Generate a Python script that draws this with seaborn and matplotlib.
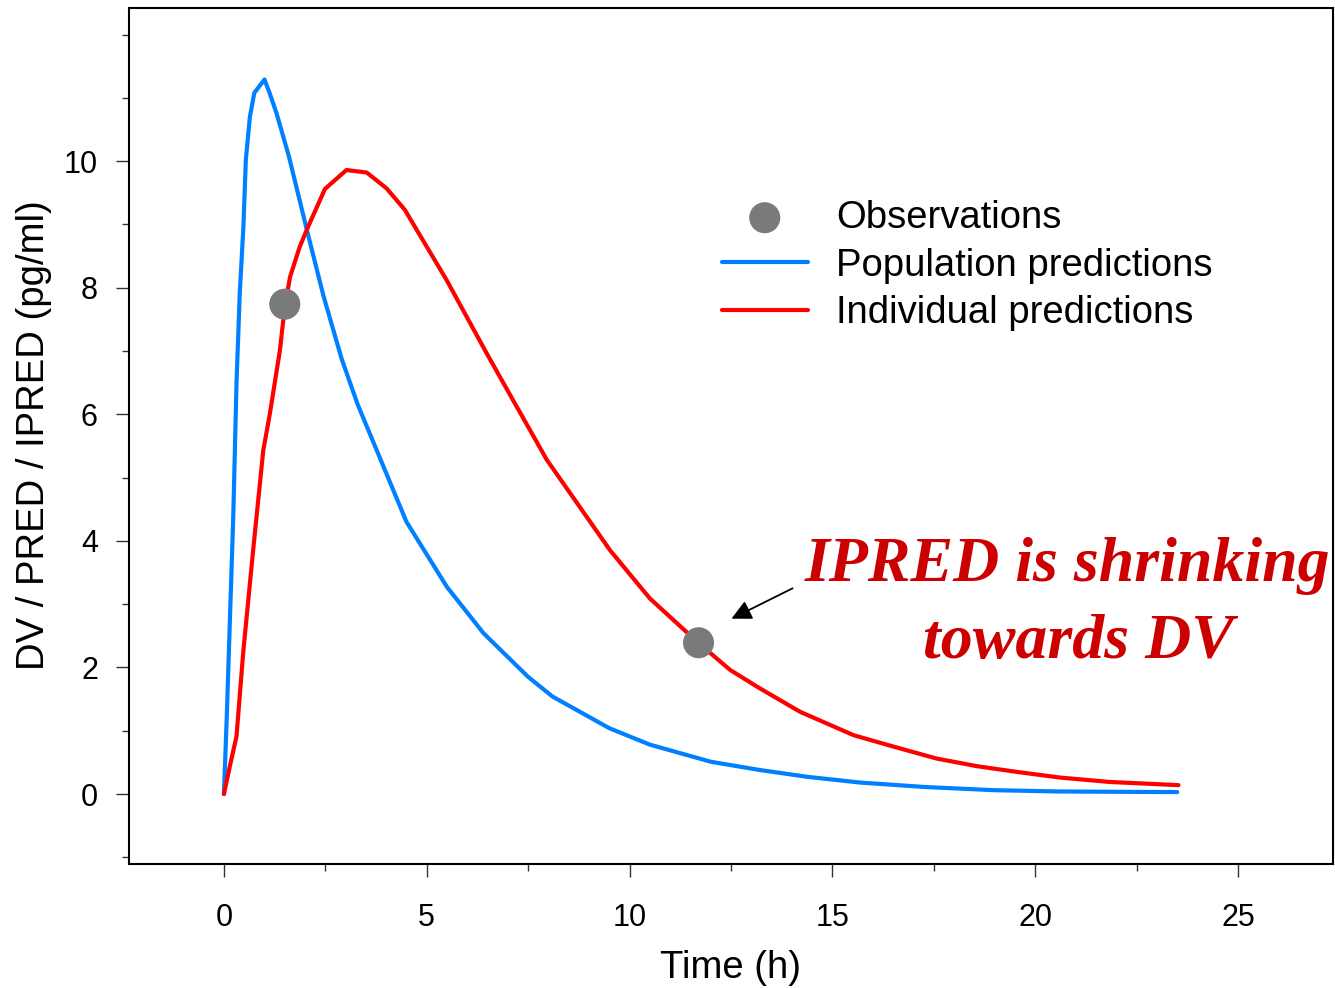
import matplotlib
matplotlib.use("Agg")
import matplotlib.pyplot as plt
from matplotlib.ticker import MultipleLocator
import seaborn as sns
import pandas as pd

# Population predictions (PRED)
time_pred = [0, 0.07, 0.15, 0.23, 0.31, 0.39, 0.48, 0.54, 0.64, 0.75, 1.0, 1.13,
             1.3, 1.6, 2.05, 2.45, 2.9, 3.3, 3.8, 4.5, 5.5, 6.4, 7.5, 8.1, 9.5,
             10.5, 12.0, 13.2, 14.4, 15.7, 17.3, 19.0, 20.6, 23.5]
conc_pred = [0, 1.22, 2.80, 4.38, 6.49, 7.91, 8.96, 10.02, 10.70, 11.08, 11.29, 11.07,
             10.75, 10.08, 8.90, 7.88, 6.88, 6.15, 5.38, 4.30, 3.27, 2.54, 1.85, 1.54, 1.04,
             0.78, 0.51, 0.38, 0.27, 0.18, 0.11, 0.06, 0.04, 0.03]

# Individual predictions (IPRED)
time_ipred = [0, 0.15, 0.31, 0.48, 0.72, 0.97, 1.13, 1.38, 1.5, 1.63, 1.87, 2.08, 2.49,
              3.02, 3.52, 4.01, 4.46, 5.49, 6.48, 7.13, 7.96, 9.52, 10.5, 11.71, 12.48,
              13.21, 14.2, 15.52, 16.5, 17.57, 18.56, 19.54, 20.61, 21.84, 23.53]
conc_ipred = [0, 0.45, 0.91, 2.27, 3.85, 5.43, 6.0, 7.01, 7.70, 8.17, 8.65, 8.97, 9.56,
              9.86, 9.82, 9.57, 9.23, 8.12, 6.96, 6.22, 5.28, 3.85, 3.09, 2.38, 1.96,
              1.67, 1.30, 0.93, 0.75, 0.56, 0.44, 0.35, 0.26, 0.19, 0.14]

# Observed concentrations (DV)
time_dv = [1.5, 11.7]
conc_dv = [7.74, 2.39]

labels = ["Observations", "Population predictions", "Individual predictions"]
x_ticks = [0, 5, 10, 15, 20, 25]
y_ticks = [0, 2, 4, 6, 8, 10]

sns.set_style("ticks")
plt.rcParams["font.family"] = ["Liberation Sans", "DejaVu Sans"]
plt.rcParams["text.color"] = "black"
plt.rcParams["axes.labelcolor"] = "black"

fig = plt.figure(figsize=(13.35, 9.88), dpi=100)
ax = fig.add_axes([129 / 1335, 1 - 864 / 988, (1333 - 129) / 1335, (864 - 8) / 988])

pred_df = pd.DataFrame({"time": time_pred, "conc": conc_pred})
ipred_df = pd.DataFrame({"time": time_ipred, "conc": conc_ipred})
dv_df = pd.DataFrame({"time": time_dv, "conc": conc_dv})

sns.lineplot(data=pred_df, x="time", y="conc", ax=ax, color="#0080FF", lw=3.0,
             label=labels[1], sort=False, estimator=None)
sns.lineplot(data=ipred_df, x="time", y="conc", ax=ax, color="#FF0000", lw=3.0,
             label=labels[2], sort=False, estimator=None)
sns.scatterplot(data=dv_df, x="time", y="conc", ax=ax, color="#7A7A7A", s=500,
                edgecolor="none", label=labels[0], zorder=5)

ax.set_xlim(-2.34, 27.34)
ax.set_ylim(-1.106, 12.42)
ax.set_xticks(x_ticks)
ax.set_yticks(y_ticks)
ax.xaxis.set_minor_locator(MultipleLocator(2.5))
ax.yaxis.set_minor_locator(MultipleLocator(1))
ax.tick_params(axis="both", which="major", length=9.4, width=1.0, color="#333333",
               labelsize=22, labelcolor="black")
ax.tick_params(axis="both", which="minor", length=5, width=1.0, color="#333333")
ax.tick_params(axis="x", which="major", pad=19)
ax.tick_params(axis="y", which="major", pad=13)

for sp in ax.spines.values():
    sp.set_visible(True)
    sp.set_linewidth(1.5)
    sp.set_color("black")

ax.set_xlabel("Time (h)", fontsize=27.5, color="black")
ax.set_ylabel("DV / PRED / IPRED (pg/ml)", fontsize=27.5, color="black")
ax.xaxis.set_label_coords(0.5, -0.1)
ax.yaxis.set_label_coords(-0.064, 0.501)

handles, hl = ax.get_legend_handles_labels()
order = [hl.index(l) for l in labels]
leg = ax.legend([handles[i] for i in order], [hl[i] for i in order],
                loc="upper left", bbox_to_anchor=(0.4925, 0.776), frameon=False,
                fontsize=27.5, handlelength=2.24, handletextpad=0.74, labelspacing=0.31,
                borderpad=0, borderaxespad=0)
for t in leg.get_texts():
    t.set_color("black")

# Annotation pointing at the late observation
ax.annotate("", xy=(12.45, 2.75), xytext=(14.08, 3.27),
            arrowprops=dict(arrowstyle="-|>", color="black", lw=1.3, mutation_scale=30))
note_style = dict(ha="center", va="center", color="#CC0000", fontsize=46,
                  fontweight="bold", fontstyle="italic",
                  family=["Liberation Serif", "DejaVu Serif"], clip_on=False)
ax.text(20.8, 3.60, "IPRED is shrinking", **note_style)
ax.text(21.07, 2.38, "towards DV", **note_style)

fig.savefig("out.png", dpi=100)
